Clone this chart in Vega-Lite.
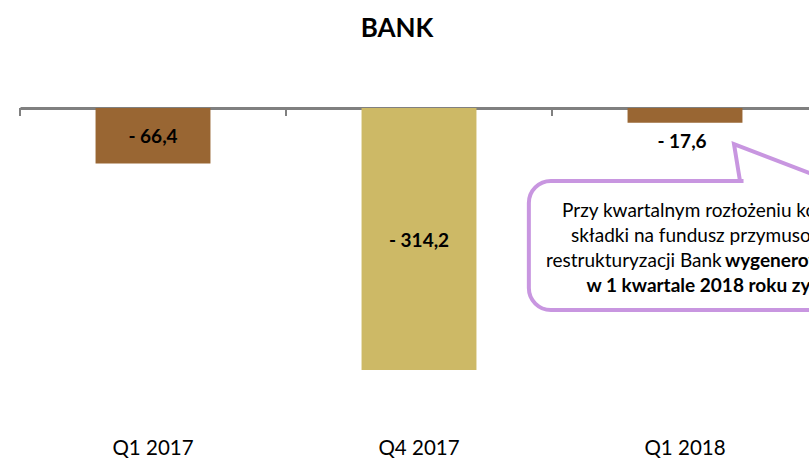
{
  "$schema": "https://vega.github.io/schema/vega-lite/v6.json",
  "width": 789,
  "height": 322,
  "autosize": {"type": "none"},
  "padding": {"left": 20, "top": 108, "right": 0, "bottom": 29},
  "background": "white",
  "config": {"view": {"stroke": null}, "font": "Lato"},
  "title": {
    "text": "BANK",
    "font": "Lato",
    "fontSize": 26,
    "fontWeight": "bold",
    "color": "black",
    "anchor": "middle",
    "frame": "group",
    "baseline": "alphabetic",
    "dx": -17.5,
    "offset": 44
  },
  "datasets": {
    "bank": [
      {"kwartal": "Q1 2017", "wynik": -66.4, "etykieta": "- 66,4"},
      {"kwartal": "Q4 2017", "wynik": -314.2, "etykieta": "- 314,2"},
      {"kwartal": "Q1 2018", "wynik": -17.6, "etykieta": "- 17,6"}
    ],
    "podzialki": [{"x": 0}, {"x": 1}, {"x": 2}, {"x": 3}],
    "ramka": [{"x1": 1.913, "x2": 3.4, "y1": -87.5, "y2": -242.2}],
    "zaslona": [{"x1": 2.72, "x2": 3.4, "y1": -82, "y2": -94}],
    "wskaznik": [
      {"x": 2.7068, "y": -87.5, "o": 1},
      {"x": 2.6842, "y": -43.2, "o": 2},
      {"x": 3.0451, "y": -87.5, "o": 3}
    ],
    "tekst": [
      {"x": 2.0376, "y": -123.5, "t": "Przy kwartalnym rozłożeniu kosztów"},
      {"x": 2.0714, "y": -153.4, "t": "składki na fundusz przymusowej"},
      {"x": 1.9774, "y": -183.4, "t": "restrukturyzacji Bank"}
    ],
    "tekst_pogrubiony": [
      {"x": 2.6505, "y": -183.4, "t": "wygenerowałby"},
      {"x": 2.1297, "y": -213.4, "t": "w 1 kwartale 2018 roku zysk"}
    ]
  },
  "layer": [
    {
      "data": {"name": "bank"},
      "layer": [
        {
          "mark": {"type": "bar"},
          "encoding": {
            "x": {
              "field": "kwartal", "type": "nominal", "sort": null,
              "scale": {"range": [0, 798], "paddingInner": 0.568, "paddingOuter": 0.284},
              "axis": {
                "orient": "bottom", "title": null, "domain": false, "ticks": false, "grid": false,
                "labelAngle": 0, "labelFont": "Lato", "labelFontSize": 20.5, "labelColor": "black",
                "labelPadding": 8
              }
            },
            "y": {
              "field": "wynik", "type": "quantitative",
              "scale": {"domain": [-386, 0], "nice": false},
              "axis": null
            },
            "color": {
              "field": "kwartal", "type": "nominal",
              "scale": {"domain": ["Q1 2017", "Q4 2017", "Q1 2018"], "range": ["#996633", "#CDB966", "#996633"]},
              "legend": null
            }
          }
        },
        {
          "transform": [
            {"filter": "datum.wynik < -30"},
            {"calculate": "datum.wynik / 2", "as": "srodek"}
          ],
          "mark": {"type": "text", "font": "Lato", "fontSize": 19, "fontWeight": "bold", "color": "black", "baseline": "middle", "dy": 1.5},
          "encoding": {
            "x": {
              "field": "kwartal", "type": "nominal", "sort": null,
              "scale": {"range": [0, 798], "paddingInner": 0.568, "paddingOuter": 0.284},
              "axis": {
                "orient": "bottom", "offset": -322, "title": null, "labels": false, "grid": false,
                "domain": true, "domainColor": "#808080", "domainWidth": 3,
                "ticks": false
              }
            },
            "y": {"field": "srodek", "type": "quantitative", "scale": {"domain": [-386, 0], "nice": false}, "axis": null},
            "text": {"field": "etykieta"}
          }
        },
        {
          "transform": [{"filter": "datum.wynik >= -30"}],
          "mark": {"type": "text", "font": "Lato", "fontSize": 19, "fontWeight": "bold", "color": "black", "baseline": "middle", "dy": 19, "dx": -3},
          "encoding": {
            "x": {
              "field": "kwartal", "type": "nominal", "sort": null,
              "scale": {"range": [0, 798], "paddingInner": 0.568, "paddingOuter": 0.284},
              "axis": null
            },
            "y": {"field": "wynik", "type": "quantitative", "scale": {"domain": [-386, 0], "nice": false}, "axis": null},
            "text": {"field": "etykieta"}
          }
        }
      ],
      "resolve": {"axis": {"x": "independent"}}
    },
    {
      "layer": [
        {
          "data": {"name": "podzialki"},
          "mark": {"type": "rule", "stroke": "#808080", "strokeWidth": 2},
          "encoding": {
            "x": {"field": "x", "type": "quantitative", "scale": {"domain": [0, 3], "range": [0, 798], "nice": false, "zero": false}, "axis": null},
            "y": {"datum": 0, "type": "quantitative", "scale": {"domain": [-386, 0], "nice": false}, "axis": null},
            "y2": {"datum": -9.6}
          }
        },
        {
          "data": {"name": "ramka"},
          "mark": {"type": "rect", "fill": "white", "stroke": "#C896E0", "strokeWidth": 4, "cornerRadius": 22},
          "encoding": {
            "x": {"field": "x1", "type": "quantitative", "axis": null},
            "x2": {"field": "x2"},
            "y": {"field": "y1", "type": "quantitative", "axis": null},
            "y2": {"field": "y2"}
          }
        },
        {
          "data": {"name": "zaslona"},
          "mark": {"type": "rect", "fill": "white", "strokeWidth": 0},
          "encoding": {
            "x": {"field": "x1", "type": "quantitative", "axis": null},
            "x2": {"field": "x2"},
            "y": {"field": "y1", "type": "quantitative", "axis": null},
            "y2": {"field": "y2"}
          }
        },
        {
          "data": {"name": "wskaznik"},
          "mark": {"type": "line", "stroke": "#C896E0", "strokeWidth": 4, "strokeJoin": "miter", "strokeCap": "butt"},
          "encoding": {
            "x": {"field": "x", "type": "quantitative", "axis": null},
            "y": {"field": "y", "type": "quantitative", "axis": null},
            "order": {"field": "o"}
          }
        },
        {
          "data": {"name": "tekst"},
          "mark": {"type": "text", "font": "Lato", "fontSize": 19, "color": "black", "align": "left", "baseline": "middle"},
          "encoding": {
            "x": {"field": "x", "type": "quantitative", "axis": null},
            "y": {"field": "y", "type": "quantitative", "axis": null},
            "text": {"field": "t"}
          }
        },
        {
          "data": {"name": "tekst_pogrubiony"},
          "mark": {"type": "text", "font": "Lato", "fontSize": 19, "fontWeight": "bold", "color": "black", "align": "left", "baseline": "middle"},
          "encoding": {
            "x": {"field": "x", "type": "quantitative", "axis": null},
            "y": {"field": "y", "type": "quantitative", "axis": null},
            "text": {"field": "t"}
          }
        }
      ]
    }
  ],
  "resolve": {"scale": {"x": "independent"}, "axis": {"x": "independent"}}
}
